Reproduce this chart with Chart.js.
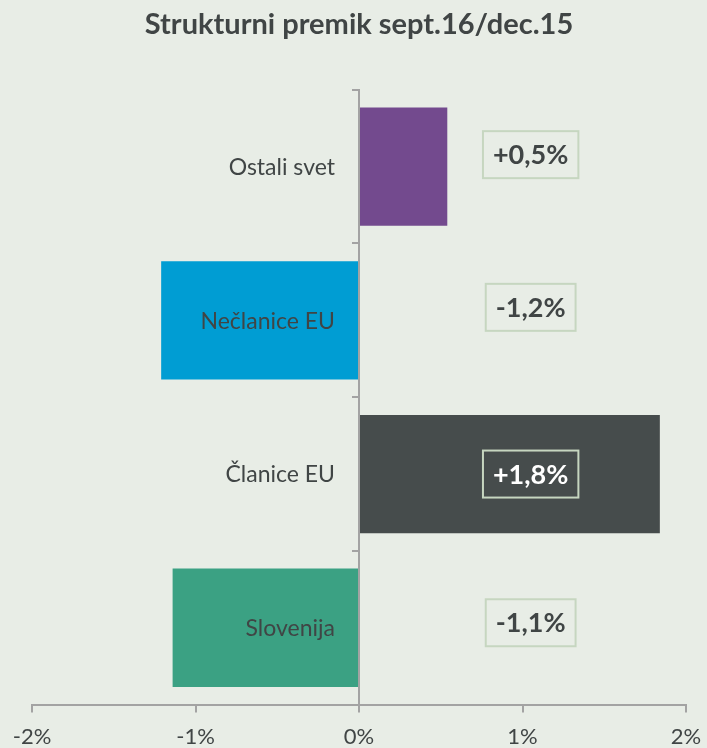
<!DOCTYPE html>
<html>
<head>
<meta charset="utf-8">
<script src="https://cdn.jsdelivr.net/npm/chart.js@4/dist/chart.umd.min.js"></script>
<style>
  html, body { margin: 0; padding: 0; background: #e8ede6; }
  #wrap { width: 707px; height: 748px; }
</style>
</head>
<body>
<div id="wrap"><canvas id="barChart"></canvas></div>
<script>
var kategorije = ['Ostali svet', 'Nečlanice EU', 'Članice EU', 'Slovenija'];
var premik = [0.54, -1.21, 1.84, -1.14];
var barve = ['#734a8e', '#009dd3', '#464c4c', '#3ba183'];
var osX = [-2, -1, 0, 1, 2];

var temna = '#404545';
// ročni zamiki okvirjev navzgor (px)
var zamikOkvirja = [12, 13, 0, 5];

function oznaka(v) {
    return (v > 0 ? '+' : '') + v.toFixed(1).replace('.', ',') + '%';
}

// imena kategorij levo od ničle (čez stolpce) in okvirji z vrednostmi desno
var napisi = {
    id: 'napisi',
    afterDatasetsDraw: function (chart) {
        var ctx = chart.ctx;
        var xs = chart.scales.x;
        var x0 = xs.getPixelForValue(0);
        var cx = xs.getPixelForValue(1.05);
        var meta = chart.getDatasetMeta(0);
        ctx.save();
        ctx.textBaseline = 'middle';
        meta.data.forEach(function (bar, i) {
            ctx.font = '23px Lato';
            ctx.textAlign = 'right';
            ctx.fillStyle = temna;
            ctx.fillText(kategorije[i], x0 - 24, bar.y + 1);

            var txt = oznaka(premik[i]);
            var cy = bar.y - zamikOkvirja[i];
            ctx.font = 'bold 27px Lato';
            ctx.textAlign = 'center';
            var w = ctx.measureText(txt).width + 20;
            var h = 47;
            ctx.lineWidth = 2;
            ctx.strokeStyle = '#c6d6c0';
            ctx.strokeRect(cx - w / 2, cy - h / 2, w, h);
            ctx.fillStyle = bar.x > cx + w / 2 ? '#ffffff' : temna;
            ctx.fillText(txt, cx, cy + 1);
        });
        ctx.restore();
    }
};

new Chart(document.getElementById('barChart').getContext('2d'), {
    type: 'bar',
    data: {
        labels: kategorije,
        datasets: [{
            data: premik,
            backgroundColor: barve,
            borderWidth: 0,
            barPercentage: 0.77,
            categoryPercentage: 1
        }]
    },
    options: {
        indexAxis: 'y',
        responsive: true,
        maintainAspectRatio: false,
        animation: false,
        layout: { padding: { left: 32, right: 21, bottom: -13 } },
        plugins: {
            legend: { display: false },
            tooltip: { enabled: false },
            title: {
                display: true,
                text: 'Strukturni premik sept.16/dec.15',
                color: temna,
                font: { family: 'Lato', size: 29, weight: 'bold' },
                padding: { top: 7, bottom: 48 }
            }
        },
        scales: {
            x: {
                min: -2,
                max: 2,
                afterBuildTicks: function (s) {
                    s.ticks = osX.map(function (v) { return { value: v }; });
                },
                afterFit: function (s) {
                    s.paddingLeft = 0;
                    s.paddingRight = 0;
                },
                grid: {
                    drawOnChartArea: false,
                    tickLength: 8,
                    color: '#a3a3a3',
                    lineWidth: 2
                },
                border: { color: '#a3a3a3', width: 2 },
                ticks: {
                    padding: 11,
                    color: temna,
                    font: { family: 'Lato', size: 22 },
                    callback: function (v) { return v + '%'; }
                }
            },
            y: {
                position: { x: 0 },
                grid: {
                    drawOnChartArea: false,
                    tickLength: 6,
                    color: '#a3a3a3',
                    lineWidth: 2
                },
                border: { color: '#a3a3a3', width: 2 },
                ticks: { display: false }
            }
        }
    },
    plugins: [napisi]
});
</script>
</body>
</html>
